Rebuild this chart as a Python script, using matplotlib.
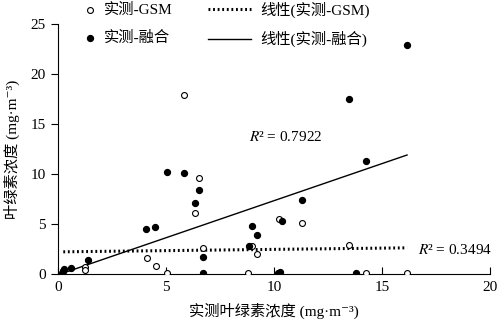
import matplotlib
matplotlib.use("Agg")
import matplotlib.pyplot as plt
from matplotlib.legend_handler import HandlerPathCollection
import numpy as np

plt.rcParams['font.family'] = ['Liberation Serif', 'Noto Sans CJK SC', 'DejaVu Serif']
plt.rcParams['mathtext.fontset'] = 'stix'

# measured vs GSM (open circles)
gsm_x = [0.25, 1.27, 1.27, 4.12, 4.52, 5.05, 5.83, 6.36, 6.54, 6.73,
         8.81, 8.98, 9.23, 10.23, 11.3, 13.49, 14.26, 16.16]
gsm_y = [0.3, 0.73, 0.4, 1.6, 0.8, 0.07, 17.9, 6.1, 9.6, 2.6,
         0.07, 2.8, 2.0, 5.5, 5.1, 2.9, 0.07, 0.07]

# measured vs fused (filled circles)
fus_x = [0.2, 0.25, 0.3, 0.6, 1.4, 4.1, 4.5, 5.05, 5.83, 6.36, 6.54, 6.73, 6.73,
         8.83, 8.98, 9.23, 10.2, 10.3, 10.35, 11.3, 13.49, 13.8, 14.26, 16.16]
fus_y = [0.1, 0.3, 0.5, 0.6, 1.4, 4.5, 4.7, 10.2, 10.1, 7.1, 8.4, 1.7, 0.07,
         2.8, 4.8, 3.9, 0.07, 0.17, 5.3, 7.4, 17.5, 0.07, 11.3, 22.9]

# linear trend lines (slope, intercept)
gsm_fit = (0.025, 2.22)
fus_fit = (0.742, -0.08)
gsm_r2 = 0.3494
fus_r2 = 0.7922


class RightMarker(HandlerPathCollection):
    # put the scatter marker at the right end of the handle box
    def get_xdata(self, legend, xdescent, ydescent, width, height, fontsize):
        xdata = [-xdescent, -xdescent + width]
        return xdata, [-xdescent + width - 0.3 * fontsize]


fig = plt.figure(figsize=(4.99, 3.31), dpi=100)
ax = fig.add_axes([0.116, 0.172, 0.866, 0.755])

h1 = ax.scatter(gsm_x, gsm_y, s=18, facecolors='white', edgecolors='black',
                linewidths=0.8, zorder=3, label='实测-GSM')
h2 = ax.scatter(fus_x, fus_y, s=18, c='black', zorder=4, label='实测-融合')

xs = np.array([min(gsm_x), max(gsm_x)])
h3, = ax.plot(xs, gsm_fit[0] * xs + gsm_fit[1], color='black', lw=2.2,
              linestyle=(0, (0.6, 0.9)), label='线性(实测-GSM)', zorder=2)
xs2 = np.array([min(fus_x), max(fus_x)])
h4, = ax.plot(xs2, fus_fit[0] * xs2 + fus_fit[1], color='black', lw=1.0,
              label='线性(实测-融合)', zorder=2)

ax.text(8.85, 13.7, r'$R$' + f'² = {fus_r2:.4f}', fontsize=11, va='center')
ax.text(16.65, 2.4, r'$R$' + f'² = {gsm_r2:.4f}', fontsize=11, va='center')

ax.set_xlim(0, 20)
ax.set_ylim(0, 25)
ax.set_xticks([0, 5, 10, 15, 20])
ax.set_yticks([0, 5, 10, 15, 20, 25])
ax.tick_params(axis='x', direction='in', length=5, labelsize=11, pad=5)
ax.tick_params(axis='y', direction='out', length=5, labelsize=11)
for s in ['top', 'right']:
    ax.spines[s].set_visible(False)

ax.set_xlabel('实测叶绿素浓度 (mg·m⁻³)', fontsize=11, labelpad=6)
ax.set_ylabel('叶绿素浓度 (mg·m⁻³)', fontsize=11, labelpad=8)

fig.legend(handles=[h1, h2, h3, h4], ncol=2, frameon=False, fontsize=11,
           loc='upper left', bbox_to_anchor=(0.103, 0.996), borderpad=0,
           borderaxespad=0, columnspacing=2.3, handlelength=2.8,
           handletextpad=0.65, labelspacing=0.9, scatterpoints=1,
           handler_map={h1: RightMarker(), h2: RightMarker()})

fig.savefig('out.png', dpi=100)
